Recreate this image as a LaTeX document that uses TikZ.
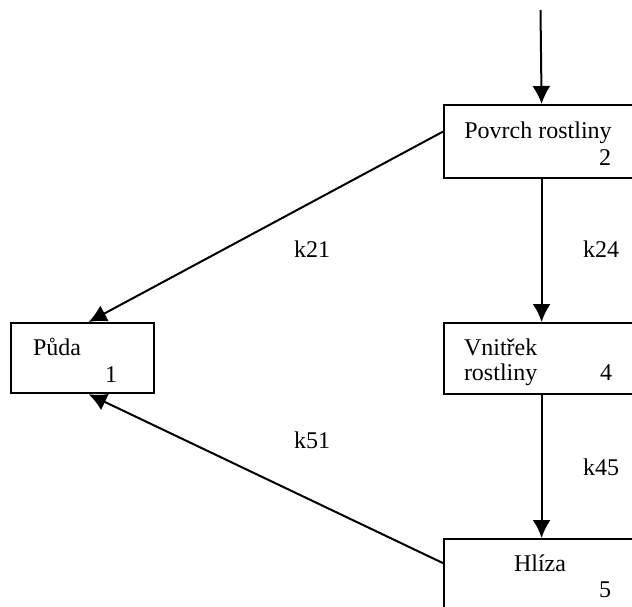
\documentclass[tikz,border=0pt]{standalone}
\usepackage{fontspec}
\setmainfont{Liberation Serif}
\usetikzlibrary{arrows.meta}
\tikzset{
  box/.style={draw,line width=1.1pt,anchor=north west,inner sep=0pt},
  txt/.style={inner sep=0pt},
}
\begin{document}
\begin{tikzpicture}[x=0.5pt,y=-0.5pt,line width=1pt,font=\fontsize{12}{14}\selectfont,
  >={Latex[length=9pt,width=9pt]}]
\clip (0,0) rectangle (632,606);
\node[box,minimum width=71.5pt,minimum height=35pt] (puda) at (10,322) {};
\node[box,minimum width=97.5pt,minimum height=36.5pt] (povrch) at (443,104) {};
\node[box,minimum width=97.5pt,minimum height=35.5pt] (vnitrek) at (443,322) {};
\node[box,minimum width=97.5pt,minimum height=36pt] (hliza) at (443,538) {};
\node[txt,anchor=base] (t2) at (538,138) {Povrch rostliny};
\node[txt,anchor=base east] (n2) at (612,165) {2};
\node[txt,anchor=base west] (t1) at (32,355) {Půda};
\node[txt,anchor=base east] (n1) at (118,382) {1};
\node[txt,anchor=base west] (t4a) at (463,355) {Vnitřek};
\node[txt,anchor=base west] (t4b) at (463,380) {rostliny};
\node[txt,anchor=base east] (n4) at (613,380) {4};
\node[txt,anchor=base west] (t5) at (513,571) {Hlíza};
\node[txt,anchor=base east] (n5) at (612,597) {5};
\node[txt,anchor=base west] (k21) at (293,257) {k21};
\node[txt,anchor=base west] (k24) at (582,257) {k24};
\node[txt,anchor=base west] (k51) at (293,448) {k51};
\node[txt,anchor=base west] (k45) at (582,475) {k45};
\coordinate (vstup) at (540.5,10);
\draw[->] (vstup) -- (povrch.north);
\draw[->] (povrch.south) -- (vnitrek.north);
\draw[->] (vnitrek.south) -- (hliza.north);
\draw[->] ([yshift=5pt]povrch.west) -- ([xshift=3pt]puda.north);
\draw[->] ([yshift=6pt]hliza.west) -- ([xshift=3pt]puda.south);
\end{tikzpicture}
\end{document}
